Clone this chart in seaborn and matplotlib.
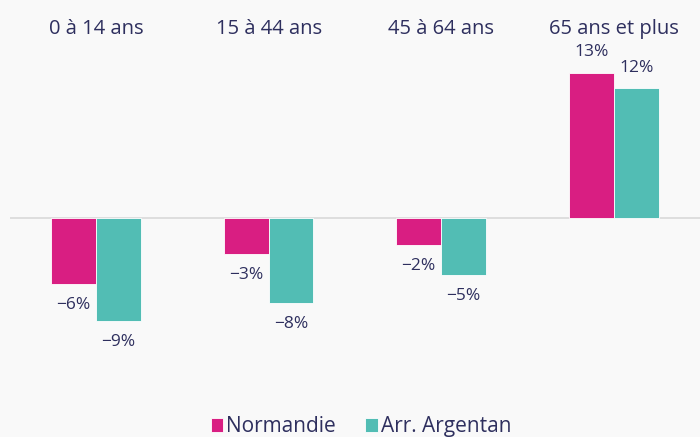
import pandas as pd
import seaborn as sns
import matplotlib.pyplot as plt

# evolution de la population par tranche d'age
categories = ['0 à 14 ans', '15 à 44 ans', '45 à 64 ans', '65 ans et plus']
normandie = [-5.9, -3.2, -2.4, 13.0]
argentan = [-9.2, -7.6, -5.1, 11.6]
series = ['Normandie', 'Arr. Argentan']

df = pd.DataFrame({
    'age': categories * 2,
    'zone': [series[0]] * 4 + [series[1]] * 4,
    'value': normandie + argentan,
})

sns.set_style('white')
plt.rcParams['font.family'] = ['Open Sans', 'DejaVu Sans']

text_color = '#2e2f5e'
bg = '#f9f9f9'
palette = {'Normandie': '#d91e82', 'Arr. Argentan': '#52bdb4'}

fig = plt.figure(figsize=(7, 4.37), dpi=100, facecolor=bg)
ax = fig.add_axes([0.014, 0.096, 0.986, 0.812], facecolor=bg)

sns.barplot(data=df, x='age', y='value', hue='zone', palette=palette,
            width=0.52, saturation=1, ax=ax, legend=True)

for patch in ax.patches:
    patch.set_edgecolor('white')
    patch.set_linewidth(0.6)

# value labels
for container in ax.containers:
    for bar in container:
        h = bar.get_height()
        x = bar.get_x() + bar.get_width() / 2
        off = 15 if h >= 0 else -15
        ax.annotate(f'{round(h):.0f}%'.replace('-', '\u2212'), (x, h),
                    xytext=(0, off), textcoords='offset points',
                    ha='center', va='center', fontsize=12.5, color=text_color)

ax.axhline(0, color='#d9d9d9', lw=1.2, zorder=0)
ax.set_xlim(-0.5, 3.5)
ax.set_ylim(-15.8, 15.9)
ax.set_yticks([])
ax.xaxis.tick_top()
ax.tick_params(axis='x', length=0, pad=1, labelsize=14.5, labelcolor=text_color)
ax.set_xlabel('')
ax.set_ylabel('')
sns.despine(ax=ax, left=True, bottom=True, top=True, right=True)

leg = ax.legend(loc='lower center', bbox_to_anchor=(0.509, -0.172), ncol=2,
                frameon=False, fontsize=15, handlelength=0.6, handleheight=0.6,
                handletextpad=0.15, columnspacing=1.4, labelcolor=text_color)

fig.savefig('out.png', dpi=100, facecolor=bg)
